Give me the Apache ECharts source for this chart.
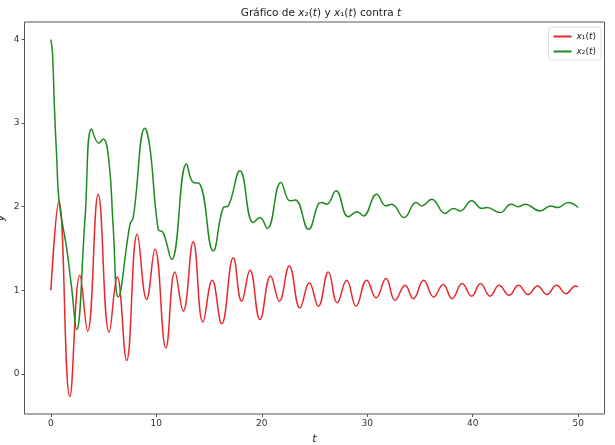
<!DOCTYPE html>
<html lang="es">
<head>
    <meta charset="UTF-8">
    <script src="https://cdn.jsdelivr.net/npm/echarts@6/dist/echarts.min.js"></script>
    <style>
        html, body { margin: 0; padding: 0; background: #fff; }
        #main { width: 615px; height: 445px; }
    </style>
</head>
<body>
    <div id="main"></div>
    <script>
        // valores (extremos y puntos de forma)
        var x1T = [0, 0.76, 1.8, 2.75, 3.48, 4.49, 5.53, 6.29, 7.18, 8.19,
            9.08, 9.87, 10.91, 11.76, 12.55, 13.5, 14.42, 15.3, 16.2, 17.3,
            18.09, 18.88, 19.83, 20.84, 21.66, 22.61, 23.62, 24.51, 25.36, 26.31,
            27.16, 28.05, 28.94, 29.95, 30.84, 31.78, 32.64, 33.59, 34.37, 35.35,
            36.3, 37.2, 38.05, 39.0, 39.9, 40.75, 41.65, 42.5, 43.45, 44.35,
            45.25, 46.15, 47.05, 47.95, 48.85, 49.75, 50];
        var x1Vals = [1.0, 2.07, -0.27, 1.18, 0.51, 2.15, 0.50, 1.16, 0.16, 1.67,
            0.89, 1.49, 0.31, 1.22, 0.75, 1.58, 0.62, 1.12, 0.60, 1.39,
            0.87, 1.24, 0.65, 1.17, 0.87, 1.29, 0.79, 1.09, 0.81, 1.22,
            0.85, 1.12, 0.81, 1.12, 0.91, 1.14, 0.88, 1.06, 0.90, 1.12,
            0.92, 1.07, 0.90, 1.08, 0.93, 1.08, 0.93, 1.06, 0.94, 1.06,
            0.95, 1.05, 0.95, 1.06, 0.96, 1.05, 1.04];

        var x2T = [0, 0.15, 0.35, 0.55, 0.79, 1.49, 1.96, 2.44, 3.23, 3.86,
            4.55, 4.96, 5.5, 5.91, 6.39, 7.5, 7.81, 8.92, 9.39, 10.18,
            10.65, 11.45, 12.87, 13.5, 14.07, 15.4, 16.35, 16.82, 17.93, 19.19,
            19.83, 20.52, 21.82, 22.68, 23.18, 24.43, 25.36, 25.7, 26.16, 27.04,
            28.21, 29.06, 29.63, 30.9, 31.78, 32.32, 33.49, 34.63, 35.17, 36.12,
            37.38, 38.17, 38.8, 39.91, 40.86, 41.34, 42.6, 43.64, 44.34, 44.97,
            46.39, 47.4, 48.05, 49.05, 50];
        var x2Vals = [4.0, 3.85, 3.15, 2.6, 2.05, 1.51, 1.04, 0.53, 1.84, 2.93,
            2.76, 2.81, 2.55, 1.76, 0.92, 1.79, 1.87, 2.94, 2.71, 1.73,
            1.69, 1.37, 2.51, 2.29, 2.28, 1.47, 1.99, 2.01, 2.43, 1.81,
            1.87, 1.74, 2.29, 2.07, 2.08, 1.73, 2.03, 2.05, 2.03, 2.19,
            1.88, 1.94, 1.89, 2.15, 2.01, 2.03, 1.87, 2.05, 2.01, 2.09,
            1.92, 1.98, 1.95, 2.07, 1.98, 1.99, 1.93, 2.03, 2.0, 2.03,
            1.95, 2.01, 1.99, 2.05, 1.99];

        var xTicks = [0, 10, 20, 30, 40, 50];
        var yTicks = [0, 1, 2, 3, 4];

        function pairs(ts, vs) {
            return ts.map(function (t, i) { return [t, vs[i]]; });
        }

        var font = 'DejaVu Sans';
        var ital = { fontStyle: 'italic', fontFamily: font, fontSize: 11, color: '#222' };

        var chart = echarts.init(document.getElementById('main'), null, { renderer: 'canvas' });

        chart.setOption({
            animation: false,
            backgroundColor: '#fff',
            title: {
                text: 'Gráfico de {i|x}₂({i|t}) y {i|x}₁({i|t}) contra {i|t}',
                left: 316,
                top: 3,
                textAlign: 'center',
                textStyle: {
                    fontFamily: font,
                    fontSize: 10.5,
                    fontWeight: 'normal',
                    color: '#222',
                    rich: { i: { fontStyle: 'italic', fontFamily: font, fontSize: 10.5, color: '#222' } }
                }
            },
            legend: {
                orient: 'vertical',
                right: 14,
                top: 27,
                icon: 'rect',
                itemWidth: 18,
                itemHeight: 2,
                itemGap: 6,
                padding: [5, 5, 4, 5],
                borderColor: '#ddd',
                borderWidth: 1,
                borderRadius: 3,
                backgroundColor: '#fff',
                formatter: function (name) {
                    return name === 'x1' ? '{i|x}₁({i|t})' : '{i|x}₂({i|t})';
                },
                textStyle: {
                    fontFamily: font,
                    fontSize: 9,
                    color: '#222',
                    rich: { i: { fontStyle: 'italic', fontFamily: font, fontSize: 9, color: '#222' } }
                }
            },
            grid: {
                left: 24.5,
                right: 10.5,
                top: 22,
                bottom: 31,
                outerBoundsMode: 'none',
                containLabel: false,
                show: true,
                borderColor: '#555',
                borderWidth: 1
            },
            xAxis: {
                type: 'value',
                min: -2.5,
                max: 52.5,
                name: 't',
                nameLocation: 'middle',
                nameGap: 20,
                nameMoveOverlap: false,
                nameTextStyle: ital,
                axisLine: { show: false, onZero: false },
                splitLine: { show: false },
                axisTick: { show: true, length: 3, customValues: xTicks, lineStyle: { color: '#555' } },
                axisLabel: { customValues: xTicks, fontFamily: font, fontSize: 9, color: '#333', margin: 5 }
            },
            yAxis: {
                type: 'value',
                min: -0.48,
                max: 4.21,
                name: 'y',
                nameLocation: 'middle',
                nameGap: 18,
                nameMoveOverlap: false,
                nameTextStyle: ital,
                axisLine: { show: false, onZero: false },
                splitLine: { show: false },
                axisTick: { show: true, length: 3, customValues: yTicks, lineStyle: { color: '#555' } },
                axisLabel: { customValues: yTicks, fontFamily: font, fontSize: 9, color: '#333', margin: 5 }
            },
            series: [
                {
                    name: 'x1',
                    type: 'line',
                    data: pairs(x1T, x1Vals),
                    smooth: 0.45,
                    showSymbol: false,
                    color: '#e8282b',
                    lineStyle: { width: 1.5, color: '#e8282b' }
                },
                {
                    name: 'x2',
                    type: 'line',
                    data: pairs(x2T, x2Vals),
                    smooth: 0.45,
                    showSymbol: false,
                    color: '#1f8a1f',
                    lineStyle: { width: 1.5, color: '#1f8a1f' }
                }
            ]
        });
    </script>
</body>
</html>
